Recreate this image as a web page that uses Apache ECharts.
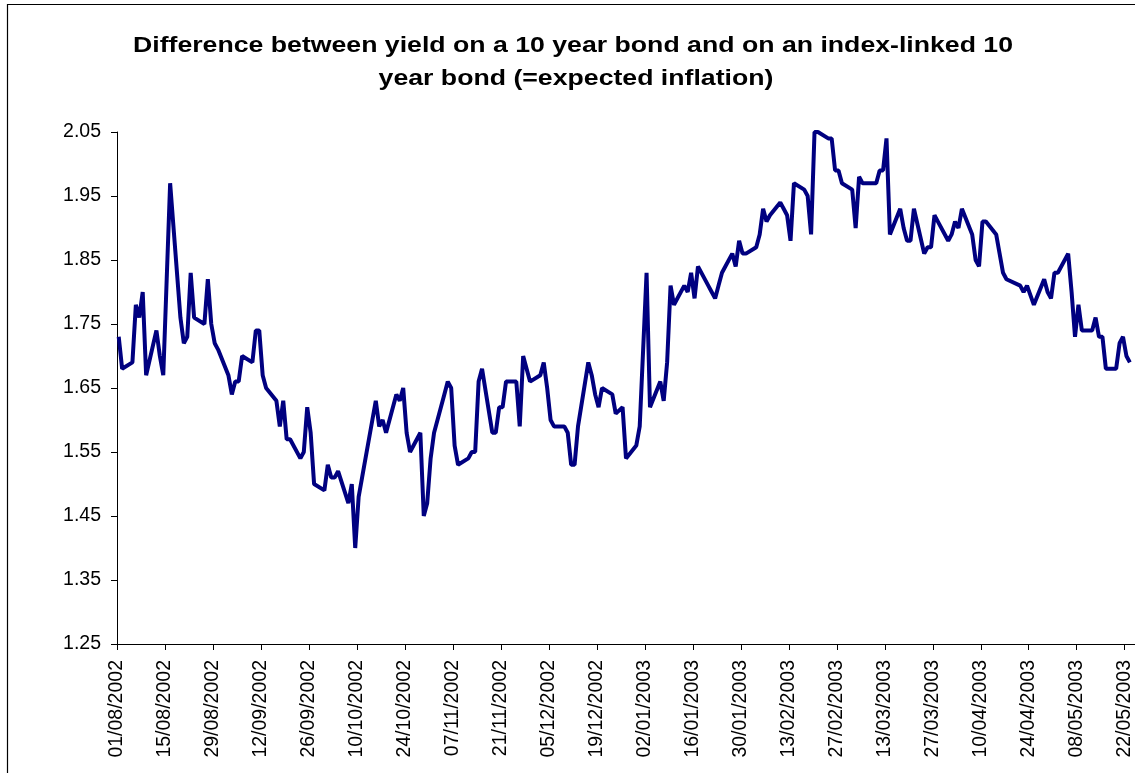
<!DOCTYPE html>
<html>
<head>
<meta charset="utf-8">
<script src="https://cdn.jsdelivr.net/npm/echarts@6/dist/echarts.min.js"></script>
<style>
html,body{margin:0;padding:0;background:#ffffff;}
#chart{width:1135px;height:773px;}
</style>
</head>
<body>
<div id="chart"></div>
<script>
const titleLines = ['Difference between yield on a 10 year bond and on an index-linked 10', 'year bond (=expected inflation)'];
const axisStartDate = '2002-08-01';
const xTickStepDays = 14;
const yMin = 1.25;
const yMax = 2.05;
const yStep = 0.1;

const dates = [
'2002-08-01','2002-08-02','2002-08-05','2002-08-06','2002-08-07','2002-08-08','2002-08-09',
'2002-08-12','2002-08-13','2002-08-14','2002-08-15','2002-08-16',
'2002-08-19','2002-08-20','2002-08-21','2002-08-22','2002-08-23',
'2002-08-26','2002-08-27','2002-08-28','2002-08-29','2002-08-30',
'2002-09-02','2002-09-03','2002-09-04','2002-09-05','2002-09-06',
'2002-09-09','2002-09-10','2002-09-11','2002-09-12','2002-09-13',
'2002-09-16','2002-09-17','2002-09-18','2002-09-19','2002-09-20',
'2002-09-23','2002-09-24','2002-09-25','2002-09-26','2002-09-27',
'2002-09-30','2002-10-01','2002-10-02','2002-10-03','2002-10-04',
'2002-10-07','2002-10-08','2002-10-09','2002-10-10','2002-10-11',
'2002-10-14','2002-10-15','2002-10-16','2002-10-17','2002-10-18',
'2002-10-21','2002-10-22','2002-10-23','2002-10-24','2002-10-25',
'2002-10-28','2002-10-29','2002-10-30','2002-10-31','2002-11-01',
'2002-11-04','2002-11-05','2002-11-06','2002-11-07','2002-11-08',
'2002-11-11','2002-11-12','2002-11-13','2002-11-14','2002-11-15',
'2002-11-18','2002-11-19','2002-11-20','2002-11-21','2002-11-22',
'2002-11-25','2002-11-26','2002-11-27','2002-11-28','2002-11-29',
'2002-12-02','2002-12-03','2002-12-04','2002-12-05','2002-12-06',
'2002-12-09','2002-12-10','2002-12-11','2002-12-12','2002-12-13',
'2002-12-16','2002-12-17','2002-12-18','2002-12-19','2002-12-20',
'2002-12-23','2002-12-24','2002-12-26','2002-12-27',
'2002-12-30','2002-12-31','2003-01-02','2003-01-03',
'2003-01-06','2003-01-07','2003-01-08','2003-01-09','2003-01-10',
'2003-01-13','2003-01-14','2003-01-15','2003-01-16','2003-01-17',
'2003-01-20','2003-01-21','2003-01-22','2003-01-23','2003-01-24',
'2003-01-27','2003-01-28','2003-01-29','2003-01-30','2003-01-31',
'2003-02-03','2003-02-04','2003-02-05','2003-02-06','2003-02-07',
'2003-02-10','2003-02-11','2003-02-12','2003-02-13','2003-02-14',
'2003-02-17','2003-02-18','2003-02-19','2003-02-20','2003-02-21',
'2003-02-24','2003-02-25','2003-02-26','2003-02-27','2003-02-28',
'2003-03-03','2003-03-04','2003-03-05','2003-03-06','2003-03-07',
'2003-03-10','2003-03-11','2003-03-12','2003-03-13','2003-03-14',
'2003-03-17','2003-03-18','2003-03-19','2003-03-20','2003-03-21',
'2003-03-24','2003-03-25','2003-03-26','2003-03-27','2003-03-28',
'2003-03-31','2003-04-01','2003-04-02','2003-04-03','2003-04-04',
'2003-04-07','2003-04-08','2003-04-09','2003-04-10','2003-04-11',
'2003-04-14','2003-04-15','2003-04-16','2003-04-17',
'2003-04-21','2003-04-22','2003-04-23','2003-04-25',
'2003-04-28','2003-04-29','2003-04-30','2003-05-01','2003-05-02',
'2003-05-05','2003-05-06','2003-05-07','2003-05-08','2003-05-09',
'2003-05-12','2003-05-13','2003-05-14','2003-05-15','2003-05-16',
'2003-05-19','2003-05-20','2003-05-21','2003-05-22','2003-05-23'
];

const values = [
1.73,1.68,1.69,1.78,1.76,1.80,1.67,
1.74,1.70,1.67,1.82,1.97,
1.76,1.72,1.73,1.83,1.76,
1.75,1.82,1.75,1.72,1.71,
1.67,1.64,1.66,1.66,1.70,
1.69,1.74,1.74,1.67,1.65,
1.63,1.59,1.63,1.57,1.57,
1.54,1.55,1.62,1.58,1.50,
1.49,1.53,1.51,1.51,1.52,
1.47,1.50,1.40,1.48,1.51,
1.60,1.63,1.59,1.60,1.58,
1.64,1.63,1.65,1.58,1.55,
1.58,1.45,1.47,1.54,1.58,
1.64,1.66,1.65,1.56,1.53,
1.54,1.55,1.55,1.66,1.68,
1.58,1.58,1.62,1.62,1.66,
1.66,1.59,1.70,1.68,1.66,
1.67,1.69,1.65,1.60,1.59,
1.59,1.58,1.53,1.53,1.59,
1.69,1.67,1.64,1.62,1.65,
1.64,1.61,1.62,1.54,
1.56,1.59,1.83,1.62,
1.66,1.63,1.69,1.81,1.78,
1.81,1.80,1.83,1.79,1.84,
1.81,1.80,1.79,1.81,1.83,
1.86,1.84,1.88,1.86,1.86,
1.87,1.89,1.93,1.91,1.92,
1.94,1.93,1.92,1.88,1.97,
1.96,1.95,1.89,2.05,2.05,
2.04,2.04,1.99,1.99,1.97,
1.96,1.90,1.98,1.97,1.97,
1.97,1.99,1.99,2.04,1.89,
1.93,1.90,1.88,1.88,1.93,
1.86,1.87,1.87,1.92,1.91,
1.88,1.89,1.91,1.90,1.93,
1.89,1.85,1.84,1.91,1.91,
1.89,1.86,1.83,1.82,
1.81,1.80,1.81,1.78,
1.82,1.80,1.79,1.83,1.83,
1.86,1.80,1.73,1.78,1.74,
1.74,1.76,1.73,1.73,1.68,
1.68,1.72,1.73,1.70,1.69
];

const DAY = 86400000;
function toUTC(s){ const p = s.split('-').map(Number); return Date.UTC(p[0], p[1]-1, p[2]); }
const t0 = toUTC(axisStartDate);
// Excel date axis places each day's point at the middle of its day slot
const seriesData = dates.map((d, i) => [(toUTC(d) - t0) / DAY + 0.5, values[i]]);
function pad(n){ return (n < 10 ? '0' : '') + n; }
function fmtDay(v){
  const r = Math.round(v);
  if (Math.abs(v - r) > 1e-6 || r % xTickStepDays !== 0) return '';
  const dt = new Date(t0 + r * DAY);
  return pad(dt.getUTCDate()) + '/' + pad(dt.getUTCMonth()+1) + '/' + dt.getUTCFullYear();
}

const FONT = '"Liberation Sans", Arial, Helvetica, sans-serif';
const chart = echarts.init(document.getElementById('chart'), null, {renderer: 'canvas'});
chart.setOption({
  animation: false,
  backgroundColor: '#ffffff',
  grid: {left: 117, right: 0, top: 132, bottom: 129, containLabel: false},
  graphic: [
    {type: 'rect', silent: true, shape: {x: 7.5, y: 4.5, width: 1300, height: 1000},
     style: {fill: 'none', stroke: '#000000', lineWidth: 1.2}},
    {type: 'text', x: 573, y: 46, scaleX: 1.24, silent: true,
     style: {text: titleLines[0], font: 'bold 21.5px ' + FONT, fill: '#000000', textAlign: 'center', textVerticalAlign: 'middle'}},
    {type: 'text', x: 576, y: 79.5, scaleX: 1.24, silent: true,
     style: {text: titleLines[1], font: 'bold 21.5px ' + FONT, fill: '#000000', textAlign: 'center', textVerticalAlign: 'middle'}}
  ],
  xAxis: {
    type: 'value', min: 0, max: 297, interval: xTickStepDays,
    axisLine: {show: true, lineStyle: {color: '#000000', width: 1}},
    axisTick: {show: true, length: 6, lineStyle: {color: '#000000', width: 1}},
    splitLine: {show: false},
    axisLabel: {rotate: 90, margin: 16, color: '#000000', fontSize: 19.5, fontFamily: FONT,
      showMaxLabel: false, formatter: fmtDay}
  },
  yAxis: {
    type: 'value', min: yMin, max: yMax, interval: yStep,
    axisLine: {show: true, lineStyle: {color: '#000000', width: 1}},
    axisTick: {show: true, length: 6, lineStyle: {color: '#000000', width: 1}},
    splitLine: {show: false},
    axisLabel: {margin: 16, color: '#000000', fontSize: 19.5, fontFamily: FONT,
      formatter: v => v.toFixed(2)}
  },
  series: [{
    type: 'line', data: seriesData, showSymbol: false, symbol: 'none',
    lineStyle: {color: '#000080', width: 4}, clip: false
  }]
});
</script>
</body>
</html>
